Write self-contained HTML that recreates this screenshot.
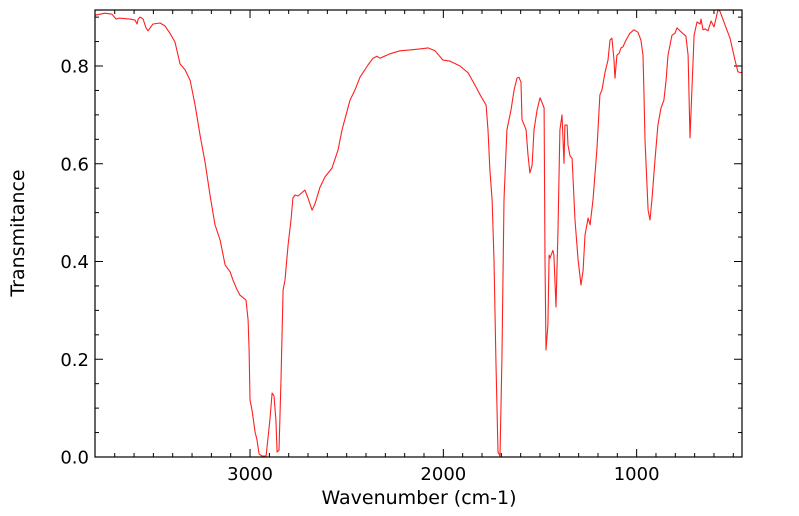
<!DOCTYPE html>
<html><head><meta charset="utf-8"><style>
html,body{margin:0;padding:0;background:#fff;}
svg{display:block;font-family:"DejaVu Sans","Liberation Sans",sans-serif;}
</style></head><body>
<svg id="chart" width="799" height="516" viewBox="0 0 799 516" xmlns="http://www.w3.org/2000/svg">
<g id="axes"></g>
<path id="spectrum" fill="none" stroke="#ff2020" stroke-width="1.1" stroke-linejoin="round"></path>
<rect x="95" y="10" width="647" height="447" fill="none" stroke="#000" stroke-width="1.2"></rect>
<text x="419" y="504" text-anchor="middle" font-size="19">Wavenumber (cm-1)</text>
<text transform="translate(24,233) rotate(-90)" text-anchor="middle" font-size="19">Transmitance</text>
</svg>
<script>
const wavenumbers=[3802,3750,3714,3693,3678,3621,3595,3584,3579,3569,3553,3538,3528,3517,3502,3466,3440,3414,3388,3362,3336,3310,3284,3259,3233,3207,3181,3155,3129,3103,3088,3067,3052,3021,3010,3005,3000,2990,2974,2964,2953,2938,2917,2897,2886,2876,2866,2860,2850,2840,2829,2819,2803,2788,2778,2767,2752,2716,2700,2679,2664,2638,2612,2576,2545,2524,2483,2457,2431,2390,2364,2343,2328,2276,2224,2172,2121,2079,2043,2002,1966,1914,1872,1836,1810,1779,1769,1759,1748,1738,1728,1717,1707,1697,1686,1671,1650,1634,1619,1609,1598,1593,1583,1572,1562,1552,1541,1531,1515,1500,1490,1479,1474,1469,1459,1453,1448,1433,1428,1417,1407,1397,1386,1376,1371,1360,1355,1345,1334,1319,1303,1288,1277,1267,1251,1241,1226,1205,1190,1179,1164,1148,1138,1128,1117,1112,1102,1091,1081,1071,1055,1035,1014,993,978,967,962,957,941,931,921,905,890,874,859,848,838,817,802,791,776,745,734,724,714,703,688,672,667,657,646,631,615,600,579,569,543,517,491,476,455];
const transmittance=[.904,.908,.906,.896,.898,.896,.894,.886,.896,.900,.896,.878,.872,.878,.886,.888,.882,.867,.849,.804,.792,.771,.720,.659,.604,.536,.475,.444,.393,.379,.362,.342,.331,.321,.280,.219,.117,.096,.051,.035,.006,.002,.002,.076,.131,.125,.076,.010,.014,.158,.342,.362,.434,.485,.530,.536,.534,.546,.530,.505,.518,.552,.573,.591,.628,.669,.730,.751,.777,.802,.816,.820,.816,.825,.831,.833,.835,.837,.831,.812,.810,.800,.786,.761,.741,.720,.669,.587,.526,.403,.198,.010,.002,.198,.526,.669,.710,.751,.775,.777,.767,.690,.681,.669,.618,.581,.597,.669,.710,.735,.726,.714,.403,.219,.270,.413,.407,.423,.413,.307,.464,.669,.700,.601,.679,.679,.638,.616,.611,.485,.403,.352,.382,.454,.489,.475,.526,.632,.741,.751,.786,.812,.853,.857,.812,.775,.822,.826,.837,.839,.853,.867,.874,.869,.853,.822,.741,.649,.505,.485,.526,.608,.679,.714,.730,.769,.822,.863,.867,.878,.872,.861,.822,.653,.751,.863,.890,.886,.896,.874,.876,.872,.892,.880,.915,.912,.884,.857,.812,.788,.786];
const xTickValues=[3000,2000,1000];
const xTickLabels=["3000","2000","1000"];
const yTickValues=[0,0.2,0.4,0.6,0.8];
const yTickLabels=["0.0","0.2","0.4","0.6","0.8"];
const X0=95,X1=742,Y0=457,Y1=10;
const WN_LEFT=3802,WN_RIGHT=455,T_MAX=(457-10)/488.75;
function xs(w){return X0+(WN_LEFT-w)/(WN_LEFT-WN_RIGHT)*(X1-X0);}
function ys(t){return Y0-t/T_MAX*(Y0-Y1);}
const NS="http://www.w3.org/2000/svg";
const axes=document.getElementById('axes');
function line(x1,y1,x2,y2,name){const l=document.createElementNS(NS,'line');l.setAttribute('x1',x1);l.setAttribute('y1',y1);l.setAttribute('x2',x2);l.setAttribute('y2',y2);l.setAttribute('stroke','#000');l.setAttribute('stroke-width','1');


axes.appendChild(l);}
function text(x,y,s,anchor,name){const t=document.createElementNS(NS,'text');t.setAttribute('x',x);t.setAttribute('y',y);t.setAttribute('text-anchor',anchor);t.setAttribute('font-size','18');t.textContent=s;


axes.appendChild(t);}
for(let w=3700;w>=500;w-=100){const x=xs(w);const major=w%1000===0;line(x,Y0,x,Y0-(major?8:4),'x-tick');line(x,Y1,x,Y1+(major?8:4),'x-tick-top');}
xTickValues.forEach((v,i)=>text(xs(v),Y0+23,xTickLabels[i],'middle','x-tick-label'));
for(let k=0;k<=18;k++){const t=k*0.05;const y=ys(t);if(y<Y1)break;const major=k%4===0;line(X0,y,X0+(major?8:4),y,'y-tick');line(X1,y,X1-(major?8:4),y,'y-tick-right');}
yTickValues.forEach((v,i)=>text(X0-6,ys(v)+6.5,yTickLabels[i],'end','y-tick-label'));
let d='';wavenumbers.forEach((w,i)=>{d+=(i?'L':'M')+xs(w).toFixed(1)+','+ys(transmittance[i]).toFixed(1);});
document.getElementById('spectrum').setAttribute('d',d);
</script>
</body></html>
